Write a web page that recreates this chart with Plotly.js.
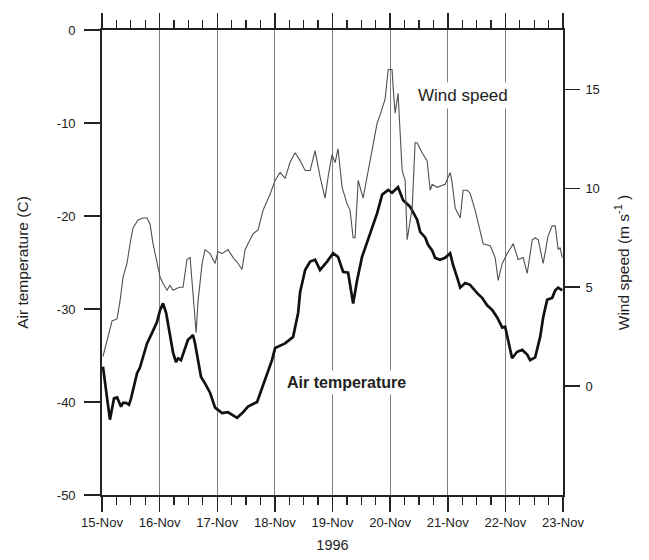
<!DOCTYPE html>
<html>
<head>
<meta charset="utf-8">
<script src="https://cdn.plot.ly/plotly-3.0.1.min.js"></script>
<style>
  html, body { margin: 0; padding: 0; background: #ffffff; }
  #chart { width: 649px; height: 560px; }
</style>
</head>
<body>
<div id="chart"></div>
<script>
// Hours after 15 Nov 1996 00:00 and air temperature (°C)
const tempHours = [0.4, 3.3, 5.0, 6.3, 7.9, 8.75, 10.0, 11.25, 12.1, 13.3, 14.6, 15.8, 17.1, 18.75, 20.8, 22.9,
  24.2, 25.4, 26.7, 28.3, 29.6, 30.8, 31.7, 32.9, 34.2, 35.8, 37.1, 37.9, 38.75, 40.0, 41.25, 42.9, 45.0, 47.1,
  50.0, 52.5, 56.25, 58.75, 60.8, 64.6, 67.9, 70.8, 72.1, 76.25, 79.6, 81.7, 82.5, 84.6, 86.7, 88.75, 90.8,
  93.75, 96.25, 98.3, 100.4, 102.5, 104.6, 106.25, 108.3, 111.7, 114.6, 116.7, 119.2, 120.8, 122.1, 123.3,
  125.4, 128.3, 131.25, 132.5, 134.6, 135.8, 137.5, 138.75, 140.8, 142.9, 145.0, 146.25, 147.9, 149.2, 151.25,
  153.3, 156.25, 158.3, 160.4, 162.5, 164.6, 166.7, 167.9, 169.2, 170.8, 172.9, 175.0, 177.1, 178.3, 180.4,
  182.5, 183.75, 185.4, 187.5, 188.75, 190.0, 191.7];
const airTemp = [-36.2, -41.9, -39.6, -39.5, -40.5, -40.1, -40.1, -40.3, -39.6, -38.2, -36.9, -36.3, -35.2, -33.7,
  -32.6, -31.4, -30.1, -29.4, -30.4, -32.6, -34.7, -35.7, -35.3, -35.5, -34.4, -33.3, -33.0, -32.8, -33.7, -35.5,
  -37.3, -38.0, -39.0, -40.6, -41.2, -41.1, -41.7, -41.1, -40.5, -40.0, -37.6, -35.5, -34.2, -33.7, -33.0, -30.4,
  -28.2, -25.8, -24.9, -24.7, -25.8, -24.9, -24.0, -24.4, -26.0, -26.1, -29.4, -26.9, -24.4, -21.8, -19.7, -17.7,
  -17.2, -17.5, -17.2, -16.9, -18.3, -19.0, -20.4, -21.7, -22.3, -23.1, -23.7, -24.5, -24.7, -24.5, -24.0, -25.3,
  -26.6, -27.7, -27.2, -27.4, -28.3, -28.8, -29.6, -30.1, -30.9, -32.0, -31.9, -33.3, -35.3, -34.6, -34.4, -34.9,
  -35.5, -35.2, -33.0, -30.9, -29.0, -28.8, -28.0, -27.7, -28.0];

// Hours after 15 Nov 1996 00:00 and wind speed (m/s)
const windHours = [0.4, 2.1, 4.2, 6.25, 7.5, 8.75, 10.4, 11.7, 12.9, 15.0, 17.1, 18.75, 20.0, 21.25, 22.9, 24.2,
  25.4, 27.1, 28.3, 29.6, 31.25, 32.5, 33.75, 35.4, 36.7, 37.9, 39.2, 40.0, 41.7, 42.9, 45.0, 47.1, 48.3, 50.0,
  52.5, 54.6, 56.7, 58.3, 59.6, 60.8, 62.9, 65.0, 67.1, 70.0, 72.1, 74.2, 76.25, 78.3, 80.4, 82.5, 84.6, 86.7,
  88.75, 90.8, 92.9, 94.2, 95.8, 97.1, 98.3, 100.0, 102.1, 103.3, 104.6, 105.4, 106.7, 108.75, 111.7, 113.75,
  114.6, 115.8, 117.9, 119.2, 120.8, 121.25, 122.1, 123.3, 125.0, 126.25, 127.1, 129.2, 130.4, 131.25, 133.3,
  135.4, 136.7, 137.5, 139.6, 142.9, 145.0, 145.8, 147.1, 149.2, 150.4, 152.1, 153.3, 155.4, 157.5, 158.75,
  161.7, 163.75, 165.0, 166.7, 168.75, 171.25, 173.3, 175.4, 177.1, 179.2, 180.4, 181.7, 183.75, 185.8, 187.5,
  188.75, 190.0, 190.8, 191.7];
const windSpeed = [1.5, 2.3, 3.3, 3.4, 4.3, 5.5, 6.2, 7.2, 8.0, 8.4, 8.5, 8.5, 8.2, 7.2, 6.2, 5.5, 5.2, 4.85, 5.1,
  4.85, 4.95, 5.0, 5.0, 6.4, 6.5, 4.5, 2.7, 4.3, 6.2, 6.9, 6.7, 6.2, 6.8, 6.7, 6.9, 6.5, 6.2, 5.9, 6.9, 7.2, 7.7,
  7.9, 8.9, 9.7, 10.4, 10.8, 10.5, 11.3, 11.8, 11.4, 10.9, 10.9, 11.9, 10.6, 9.5, 10.6, 11.7, 11.3, 12.0, 10.05,
  9.2, 8.9, 7.5, 7.5, 10.4, 9.5, 11.4, 12.9, 13.3, 13.7, 14.5, 16.0, 16.0, 15.1, 13.8, 14.8, 10.9, 10.4, 7.4, 9.0,
  12.3, 12.3, 11.8, 11.4, 9.9, 10.2, 10.05, 10.2, 10.8, 10.3, 9.0, 8.5, 9.9, 9.9, 9.75, 8.9, 7.9, 7.2, 7.1, 6.5,
  5.35, 6.2, 6.7, 7.2, 6.4, 6.5, 5.7, 7.4, 7.5, 7.4, 6.2, 7.6, 8.1, 8.1, 6.9, 7.0, 6.5];

// Axis tick values and labels
const tempTicks = [0, -10, -20, -30, -40, -50];
const tempTickText = ['0', '-10', '-20', '-30', '-40', '-50'];
const windTicks = [0, 5, 10, 15];

const startDate = Date.UTC(1996, 10, 15);
const toDate = h => new Date(startDate + h * 3600000).toISOString().replace('Z', '');

const FONT = 'Liberation Sans, Arial, sans-serif';
const INK = '#222222';

const traces = [
  {
    x: windHours.map(toDate), y: windSpeed, yaxis: 'y2', type: 'scatter', mode: 'lines',
    line: { color: '#505050', width: 1.1 }, name: 'Wind speed'
  },
  {
    x: tempHours.map(toDate), y: airTemp, type: 'scatter', mode: 'lines',
    line: { color: '#111111', width: 2.7 }, name: 'Air temperature'
  }
];

const layout = {
  width: 649, height: 560,
  margin: { l: 102, r: 86, t: 30, b: 65 },
  paper_bgcolor: '#ffffff', plot_bgcolor: '#ffffff',
  showlegend: false,
  font: { family: FONT, size: 13, color: INK },
  xaxis: {
    type: 'date',
    range: ['1996-11-15', '1996-11-23'],
    dtick: 86400000, tick0: '1996-11-15',
    tickformat: '%d-%b',
    ticks: 'outside', ticklen: 15, tickwidth: 1.5, tickcolor: INK,
    minor: { dtick: 21600000, ticks: 'outside', ticklen: 8, tickwidth: 1.3, tickcolor: INK, showgrid: false },
    showline: true, linecolor: INK, linewidth: 1.8, mirror: 'ticks',
    showgrid: true, gridcolor: '#808080', gridwidth: 1,
    zeroline: false,
    tickfont: { family: FONT, size: 13, color: INK },
    title: { text: '1996', font: { family: FONT, size: 14.5, color: INK }, standoff: 10 }
  },
  yaxis: {
    range: [-50, 0], tickvals: tempTicks, ticktext: tempTickText,
    ticks: 'outside', ticklen: 16, tickwidth: 1.5, tickcolor: INK, ticklabelstandoff: 6,
    showline: true, linecolor: INK, linewidth: 1.8,
    showgrid: false, zeroline: false,
    tickfont: { family: FONT, size: 13, color: INK },
    title: { text: 'Air temperature (C)', font: { family: FONT, size: 15.5, color: INK }, standoff: 24 }
  },
  yaxis2: {
    overlaying: 'y', side: 'right',
    range: [-5.5, 18], tickvals: windTicks,
    ticks: 'outside', ticklen: 15, tickwidth: 1.5, tickcolor: INK, ticklabelstandoff: 3,
    showline: true, linecolor: INK, linewidth: 1.8,
    showgrid: false, zeroline: false,
    tickfont: { family: FONT, size: 13, color: INK },
    title: { text: 'Wind speed (m s<sup>-1</sup> )', font: { family: FONT, size: 15.5, color: INK }, standoff: 19 }
  },
  annotations: [
    {
      x: toDate(150.5), y: -7.0, xref: 'x', yref: 'y', text: 'Wind speed', showarrow: false,
      font: { family: FONT, size: 17, color: INK }, bgcolor: '#ffffff', borderpad: 3
    },
    {
      x: toDate(102.0), y: -37.9, xref: 'x', yref: 'y', text: '<b>Air temperature</b>', showarrow: false,
      font: { family: FONT, size: 16, color: INK }, bgcolor: '#ffffff', borderpad: 3
    }
  ]
};

Plotly.newPlot('chart', traces, layout, { displayModeBar: false, staticPlot: true });
</script>
</body>
</html>
